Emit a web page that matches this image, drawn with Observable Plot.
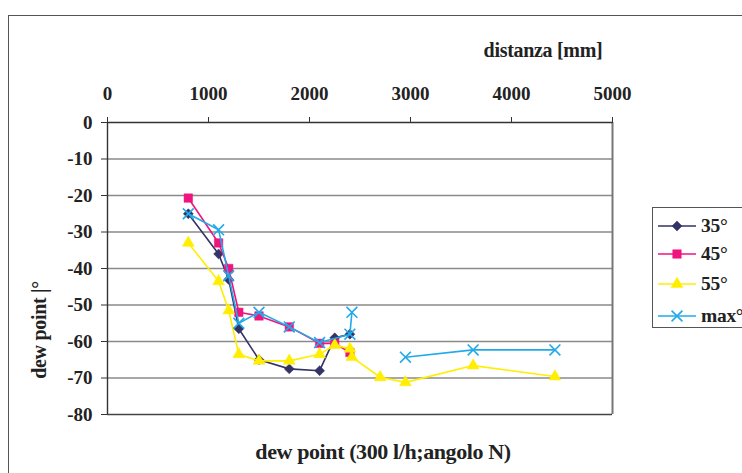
<!DOCTYPE html>
<html>
<head>
<meta charset="utf-8">
<script src="https://cdn.jsdelivr.net/npm/d3@7"></script>
<script src="https://cdn.jsdelivr.net/npm/@observablehq/plot@0.6"></script>
<style>
  html, body { margin:0; padding:0; background:#fff; overflow:hidden; width:742px; height:473px; }
  #wrap { position:relative; width:742px; height:473px; font-family:"Liberation Serif", "Times New Roman", serif; font-weight:bold; color:#222; }
  #frame { position:absolute; left:8px; top:15px; width:900px; height:600px; border:1.5px solid #555; box-sizing:border-box; }
  #chart { position:absolute; left:0; top:0; }
  .ttl { position:absolute; font-size:19px; white-space:nowrap; letter-spacing:-0.3px; }
  #legend { position:absolute; left:652px; top:207px; width:120px; height:121px; border:1.5px solid #555; box-sizing:border-box; background:#fff; }
  .li { position:absolute; left:4px; height:20px; display:flex; align-items:center; font-size:19.5px; letter-spacing:-0.3px; }
  .li svg { margin-right:4px; }
</style>
</head>
<body>
<div id="wrap">
  <div id="frame"></div>
  <div id="chart"></div>
  <div class="ttl" id="tTop" style="left:543px; top:50px; font-size:20px; transform:translate(-50%,-50%);">distanza [mm]</div>
  <div class="ttl" id="tY" style="left:39px; top:330px; font-size:20px; transform:translate(-50%,-50%) rotate(-90deg);">dew point |°</div>
  <div class="ttl" id="tBottom" style="left:383px; top:452px; font-size:22px; letter-spacing:-0.4px; transform:translate(-50%,-50%);">dew point (300 l/h;angolo N)</div>
  <div id="legend"></div>
</div>
<script>
// ---- data ----
const seriesNames = ["35°", "45°", "55°", "max°"];
const seriesColors = ["#333366", "#F0147F", "#FFEE00", "#22AAE8"];
const seriesSymbols = ["diamond2", "square", "triangle", "times"];

const x35 = [800, 1100, 1200, 1300, 1500, 1800, 2100, 2250, 2400];
const y35 = [-25, -36, -43, -56.5, -65, -67.5, -68, -59, -58];

const x45 = [800, 1100, 1200, 1300, 1500, 1800, 2100, 2250, 2400];
const y45 = [-20.7, -33, -40, -52, -53, -56, -60.5, -60.5, -63];

const x55 = [800, 1100, 1200, 1300, 1500, 1800, 2100, 2250, 2400, 2420, 2700, 2950, 3620, 4430];
const y55 = [-33, -43.5, -51.5, -63.5, -65.3, -65.3, -63.5, -61, -62, -64.3, -69.8, -71.2, -66.6, -69.6];

const xMax = [800, 1100, 1200, 1300, 1500, 1800, 2100, 2400, 2420, 2700, 2950, 3620, 4430];
const yMax = [-25, -29.4, -42, -55, -52, -56, -60.3, -58, -52, null, -64.3, -62.3, -62.3];

const xTicks = [0, 1000, 2000, 3000, 4000, 5000];
const yTicks = [0, -10, -20, -30, -40, -50, -60, -70, -80];

// ---- table ----
const xs = [x35, x45, x55, xMax], ys = [y35, y45, y55, yMax];
const rows = [];
seriesNames.forEach((s, i) => xs[i].forEach((x, j) => rows.push({series: s, x, y: ys[i][j]})));

const colorOf = Object.fromEntries(seriesNames.map((s, i) => [s, seriesColors[i]]));
const symOf = Object.fromEntries(seriesNames.map((s, i) => [s, seriesSymbols[i]]));
const rOf = {"35°": 4.5, "45°": 4.8, "55°": 4.4, "max°": 5};

const marks = [
  Plot.gridY(yTicks.filter(d => d !== 0 && d !== -80), {stroke: "#8a8a8a", strokeOpacity: 1, strokeWidth: 1.6}),
  Plot.ruleX([5000], {stroke: "#777", strokeWidth: 2}),
  Plot.ruleY([-80], {stroke: "#444", strokeWidth: 1.6}),
  Plot.ruleY([0], {stroke: "#333", strokeWidth: 1.4}),
  Plot.ruleX([0], {stroke: "#333", strokeWidth: 1.4}),
  Plot.axisX({anchor: "top", ticks: xTicks, tickSize: 6, tickPadding: 17, label: null, tickFormat: d => String(d), stroke: "#333"}),
  Plot.axisY({anchor: "left", ticks: yTicks, tickSize: 6, tickPadding: 9, label: null, tickFormat: d => d === 0 ? "0" : "-" + Math.abs(d), stroke: "#333"})
];
seriesNames.forEach(s => {
  const d = rows.filter(r => r.series === s);
  marks.push(Plot.line(d, {x: "x", y: "y", stroke: colorOf[s], strokeWidth: 1.6}));
  const sym = symOf[s];
  if (sym === "times") {
    marks.push(Plot.dot(d, {x: "x", y: "y", symbol: sym, r: rOf[s], stroke: colorOf[s], strokeWidth: 1.6}));
  } else {
    marks.push(Plot.dot(d, {x: "x", y: "y", symbol: sym, r: rOf[s], fill: colorOf[s], stroke: colorOf[s], strokeWidth: 0.5}));
  }
});

const chart = Plot.plot({
  width: 742, height: 473,
  marginLeft: 107, marginRight: 130, marginTop: 122, marginBottom: 59,
  x: {domain: [0, 5000]},
  y: {domain: [-80, 0]},
  style: {fontFamily: "'Liberation Serif', 'Times New Roman', serif", fontWeight: "bold", fontSize: "19px", color: "#222", background: "transparent", overflow: "visible"},
  marks
});
document.getElementById("chart").appendChild(chart);

// ---- legend ----
const legend = d3.select("#legend");
const itemTops = [8, 36, 66, 98];
const symMap = {diamond2: d3.symbolDiamond2, square: d3.symbolSquare, triangle: d3.symbolTriangle, times: d3.symbolTimes};
seriesNames.forEach((s, i) => {
  const item = legend.append("div").attr("class", "li").style("top", itemTops[i] + "px");
  const svg = item.append("svg").attr("width", 40).attr("height", 20);
  svg.append("line").attr("x1", 1).attr("x2", 39).attr("y1", 10).attr("y2", 10).attr("stroke", seriesColors[i]).attr("stroke-width", 1.6);
  const r = rOf[s];
  const p = svg.append("path").attr("transform", "translate(20,10)").attr("d", d3.symbol(symMap[seriesSymbols[i]], Math.PI * r * r)());
  if (seriesSymbols[i] === "times") p.attr("fill", "none").attr("stroke", seriesColors[i]).attr("stroke-width", 1.6);
  else p.attr("fill", seriesColors[i]).attr("stroke", seriesColors[i]).attr("stroke-width", 0.5);
  item.append("span").text(s);
});
</script>
</body>
</html>
